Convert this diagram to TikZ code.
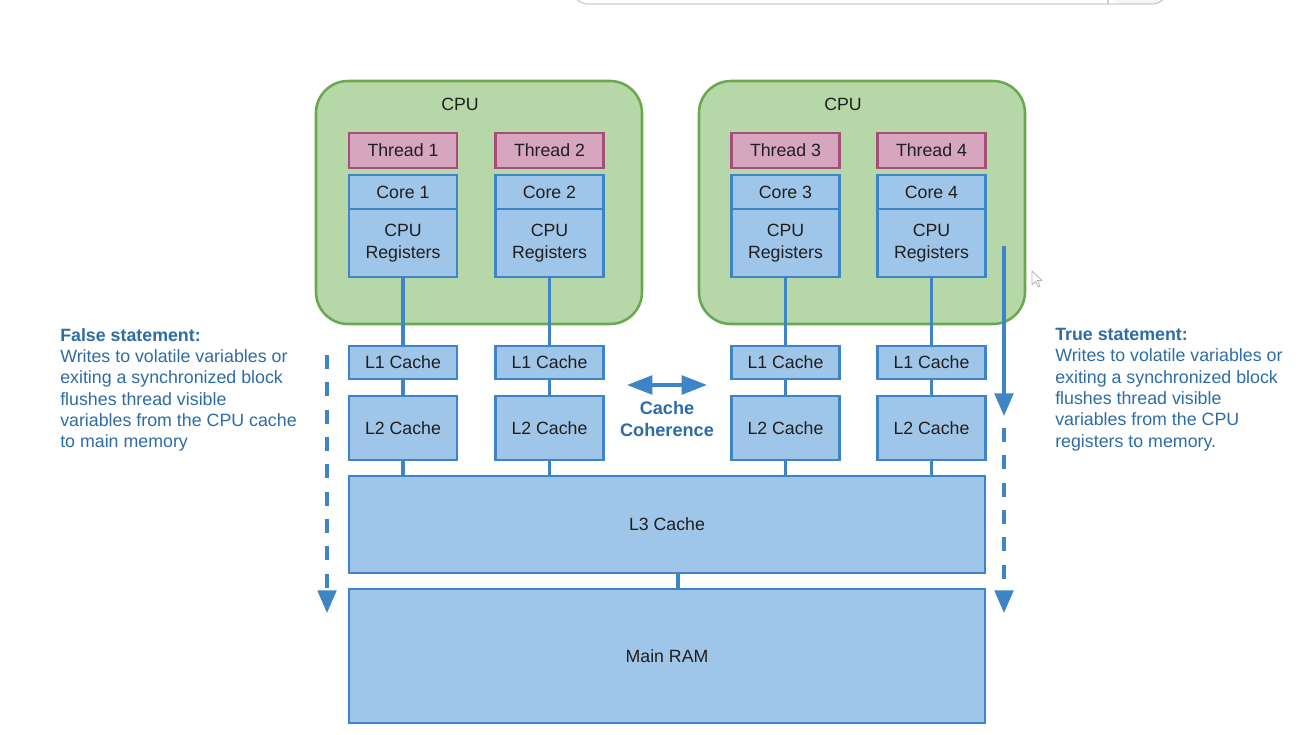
\documentclass[tikz,border=0pt]{standalone}
\usepackage{fontspec}
\setmainfont{Liberation Sans}
\usetikzlibrary{arrows.meta,calc}

\definecolor{cpufill}{HTML}{B6D7A8}
\definecolor{cpuline}{HTML}{6AA84F}
\definecolor{thrfill}{HTML}{D5A6BD}
\definecolor{thrline}{HTML}{A64D79}
\definecolor{memfill}{HTML}{9FC5E8}
\definecolor{memline}{HTML}{3D85C6}
\definecolor{notecol}{HTML}{2E6CA5}
\definecolor{txt}{HTML}{1F1F1F}

\tikzset{
  pxsize/.style 2 args={minimum width=#1*0.75pt, minimum height=#2*0.75pt},
  lbl/.style={font=\fontsize{13.3}{16}\selectfont, text=txt},
  cpubox/.style={draw=cpuline, fill=cpufill, line width=1.9pt, rounded corners=24pt, inner sep=0pt, outer sep=0pt},
  thrbox/.style={draw=thrline, fill=thrfill, line width=1.7pt, inner sep=0pt, outer sep=0pt, lbl},
  membox/.style={draw=memline, fill=memfill, line width=1.7pt, inner sep=0pt, outer sep=0pt, lbl, align=center},
  conn/.style={draw=memline, line width=2.6pt},
  note/.style={font=\fontsize{13.35}{16}\selectfont, text=notecol, align=left, inner sep=0pt, anchor=north west},
  flowarrow/.style={draw=memline, line width=2.4pt, -{Triangle[length=17pt, width=14pt]}},
  dashflow/.style={flowarrow, dash pattern=on 10.5pt off 10pt},
  coharrow/.style={draw=memline, line width=2.6pt, {Triangle[length=19pt, width=14pt]}-{Triangle[length=19pt, width=14pt]}}
}

\begin{document}
\begin{tikzpicture}[x=0.75pt, y=-0.75pt]
\useasboundingbox (0,0) rectangle (1300,735);
\fill[white] (0,0) rectangle (1300,735);

% address bar edge along the top
\fill[gray!8, rounded corners=12pt] (1108,-40) rectangle (1168,4);
\draw[gray!40, line width=0.9pt, rounded corners=12pt] (572,-40) rectangle (1168,4);
\draw[gray!40, line width=0.9pt] (1108,-40) -- (1108,4);

% CPU packages
\node[cpubox, pxsize={326}{243}] (cpuA) at (479,202.5) {};
\node[cpubox, pxsize={326}{243}] (cpuB) at (862,202.5) {};
\node[lbl] (cpuAl) at (460,104) {CPU};
\node[lbl] (cpuBl) at (843,104) {CPU};

% threads
\node[thrbox, pxsize={108}{35}] (t1) at (403,150.5) {Thread 1};
\node[thrbox, pxsize={108}{35}] (t2) at (549.5,150.5) {Thread 2};
\node[thrbox, pxsize={108}{35}] (t3) at (785.5,150.5) {Thread 3};
\node[thrbox, pxsize={108}{35}] (t4) at (931.5,150.5) {Thread 4};

% cores
\node[membox, pxsize={108}{34}] (c1) at (403,192) {Core 1};
\node[membox, pxsize={108}{34}] (c2) at (549.5,192) {Core 2};
\node[membox, pxsize={108}{34}] (c3) at (785.5,192) {Core 3};
\node[membox, pxsize={108}{34}] (c4) at (931.5,192) {Core 4};

% registers
\node[membox, pxsize={108}{68}] (r1) at (403,243) {CPU\\Registers};
\node[membox, pxsize={108}{68}] (r2) at (549.5,243) {CPU\\Registers};
\node[membox, pxsize={108}{68}] (r3) at (785.5,243) {CPU\\Registers};
\node[membox, pxsize={108}{68}] (r4) at (931.5,243) {CPU\\Registers};

% L1 caches
\node[membox, pxsize={108}{33}] (a1) at (403,362.5) {L1 Cache};
\node[membox, pxsize={108}{33}] (a2) at (549.5,362.5) {L1 Cache};
\node[membox, pxsize={108}{33}] (a3) at (785.5,362.5) {L1 Cache};
\node[membox, pxsize={108}{33}] (a4) at (931.5,362.5) {L1 Cache};

% L2 caches
\node[membox, pxsize={108}{64}] (b1) at (403,428) {L2 Cache};
\node[membox, pxsize={108}{64}] (b2) at (549.5,428) {L2 Cache};
\node[membox, pxsize={108}{64}] (b3) at (785.5,428) {L2 Cache};
\node[membox, pxsize={108}{64}] (b4) at (931.5,428) {L2 Cache};

% shared memory
\node[membox, pxsize={636}{97}] (l3) at (667,524.5) {L3 Cache};
\node[membox, pxsize={636}{134}] (ram) at (667,656) {Main RAM};

% links
\foreach \i in {1,2,3,4} {
  \draw[conn] (r\i.south) -- (a\i.north);
  \draw[conn] (a\i.south) -- (b\i.north);
  \draw[conn] (b\i.south) -- (l3.north -| b\i.south);
}
\draw[conn] ($(l3.south)+(11,0)$) -- ($(ram.north)+(11,0)$);

% cache coherence
\coordinate (cohL) at (627,385);
\coordinate (cohR) at (707,385);
\draw[coharrow] (cohL) -- (cohR);
\node[font=\fontsize{13.6}{16.5}\bfseries\selectfont, text=notecol, align=center] (coh) at (667,419.5) {Cache\\Coherence};

% flush arrows
\coordinate (fA) at (327,355);
\coordinate (fB) at (327,613);
\draw[dashflow] (fA) -- (fB);
\coordinate (tA) at (1004,246);
\coordinate (tB) at (1004,416);
\coordinate (tC) at (1004,428);
\coordinate (tD) at (1004,613);
\draw[flowarrow] (tA) -- (tB);
\draw[dashflow] (tC) -- (tD);

% statements
\node[note] (fs) at (60,328) {\textbf{False statement:}\\Writes to volatile variables or\\exiting a synchronized block\\flushes thread visible\\variables from the CPU cache\\to main memory};
\node[note] (ts) at (1055,328) {\textbf{True statement:}\\Writes to volatile variables or\\exiting a synchronized block\\flushes thread visible\\variables from the CPU\\registers to memory.};

% pointer
\draw[gray!60, fill=white, line width=0.6pt, line join=round]
  (1032,271) -- (1032,285) -- (1035.5,281.5) -- (1038,287) -- (1040,286) -- (1037.5,280.5) -- (1042,280.5) -- cycle;
\end{tikzpicture}
\end{document}
